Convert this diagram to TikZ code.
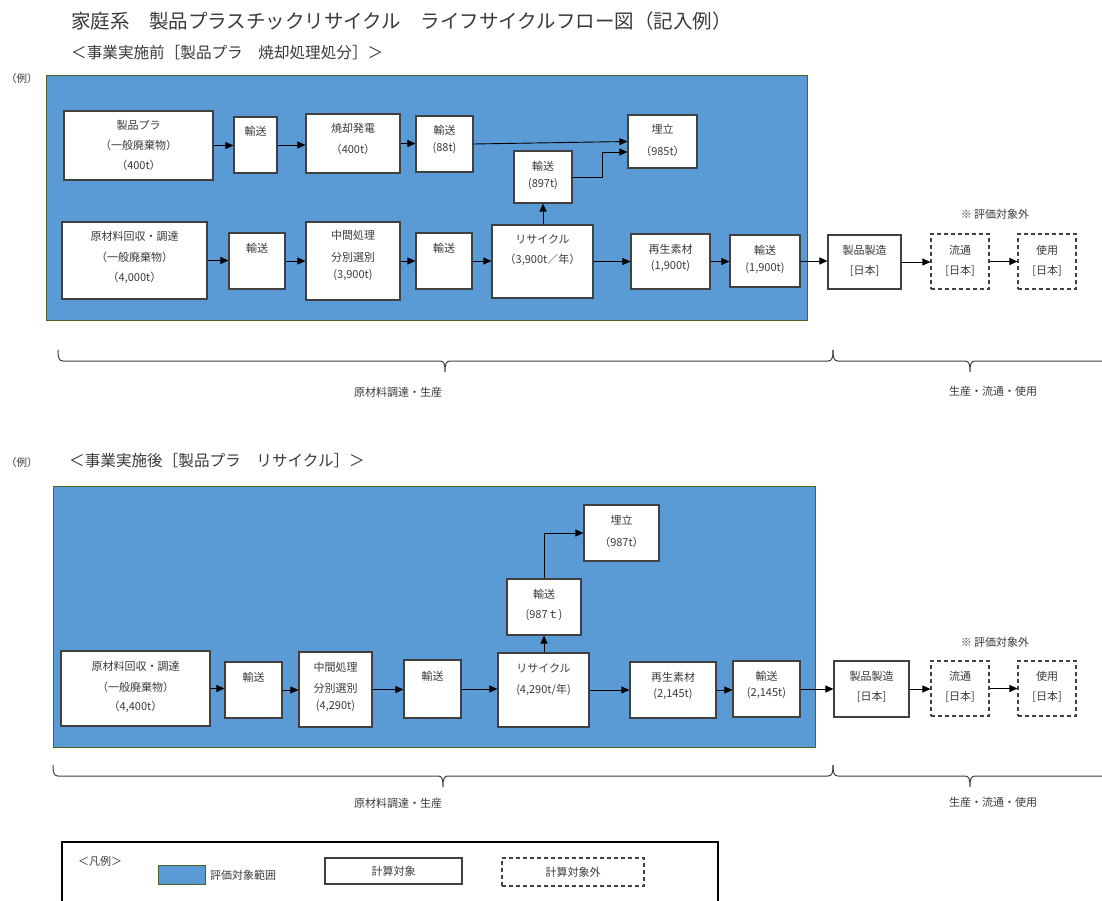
\documentclass[tikz,border=0pt]{standalone}
\usepackage{fontspec}
\setmainfont{Noto Sans CJK JP}
\usetikzlibrary{arrows.meta,fit,calc}
\definecolor{evblue}{HTML}{5B9BD5}
\definecolor{evedge}{HTML}{4F6228}
\definecolor{txtc}{HTML}{3A3A3A}
\definecolor{boxedge}{HTML}{404040}
\newcommand\bx[6][box]{\node[#1,fit={(#3,#4)(#5,#6)}] (#2) {};}
\newcommand\tl[3]{\node[tx] at (#1,#2) {#3};}
\newcommand\hbr[4]{%
  \draw[brc] (#1,#4) .. controls (#1,#4+8) and (#1+1,#4+11) .. (#1+5,#4+11)
    -- (#3-5,#4+11) .. controls (#3-1,#4+11) and (#3,#4+14) .. (#3,#4+22)
    .. controls (#3,#4+14) and (#3+1,#4+11) .. (#3+5,#4+11)
    -- (#2-5,#4+11) .. controls (#2-1,#4+11) and (#2,#4+8) .. (#2,#4);}
\begin{document}
\begin{tikzpicture}[x=1pt,y=-1pt,
  box/.style={draw=boxedge, line width=1.1pt, fill=white, inner sep=0pt},
  dbox/.style={draw=boxedge, line width=1.1pt, fill=white, dash pattern=on 4pt off 3pt, inner sep=0pt},
  area/.style={draw=evedge, line width=1pt, fill=evblue},
  tx/.style={text=txtc, font=\fontsize{11}{13}\selectfont, inner sep=0pt},
  sm/.style={text=txtc, font=\fontsize{11}{13}\selectfont, inner sep=0pt},
  arr/.style={draw=black, line width=0.9pt, -{Triangle[length=8pt,width=7pt]}},
  brc/.style={draw=boxedge, line width=1pt}]
\useasboundingbox (0,0) rectangle (1102,901);
\fill[white] (0,0) rectangle (1102,901);
\clip (0,0) rectangle (1102,901);

% headings
\node[anchor=west, text=txtc, font=\fontsize{19.5}{23}\selectfont, inner sep=0pt] (title) at (71,21) {家庭系　製品プラスチックリサイクル　ライフサイクルフロー図（記入例）};
\node[anchor=west, text=txtc, font=\fontsize{15.6}{18}\selectfont, inner sep=0pt] (sub1) at (71,53) {＜事業実施前［製品プラ　焼却処理処分］＞};
\node[anchor=west, text=txtc, font=\fontsize{10.5}{12}\selectfont, inner sep=0pt] (ex1) at (6,79) {（例）};

% ===== top diagram =====
\node[area, fit={(46,76)(807,320)}, inner sep=0pt] (area1) {};
\bx{pp}{64}{111}{213}{180}
\bx{ta}{234}{117}{277}{173}
\bx{ib}{306}{114}{400}{173}
\bx{tb}{416}{116}{473}{172}
\bx{um}{628}{115}{697}{168}
\bx{tc}{514}{151}{572}{203}
\bx{gz}{62}{222}{207}{299}
\bx{td}{229}{233}{285}{289}
\bx{cs}{306}{222}{400}{300}
\bx{te}{416}{233}{472}{289}
\bx{rc}{492}{225}{593}{298}
\bx{ss}{631}{234}{710}{289}
\bx{tf}{730}{235}{800}{287}
\bx{sz}{828}{235}{901}{289}
\bx[dbox]{rt}{931}{234}{989}{289}
\bx[dbox]{sy}{1018}{234}{1076}{289}

\tl{138.5}{125}{製品プラ}
\tl{138.5}{145}{（一般廃棄物）}
\tl{138.5}{165}{（400t）}
\tl{255.5}{131}{輸送}
\tl{353}{128}{焼却発電}
\tl{353}{149}{（400t）}
\tl{444.5}{130}{輸送}
\tl{444.5}{148}{(88t)}
\tl{662.5}{129}{埋立}
\tl{662.5}{151}{（985t）}
\tl{543}{166}{輸送}
\tl{543}{184}{(897t)}
\tl{134.5}{236}{原材料回収・調達}
\tl{134.5}{257}{（一般廃棄物）}
\tl{134.5}{278}{（4,000t）}
\tl{257}{248}{輸送}
\tl{353}{235}{中間処理}
\tl{353}{257}{分別選別}
\tl{353}{275}{(3,900t)}
\tl{444}{248}{輸送}
\tl{542.5}{239}{リサイクル}
\tl{542.5}{260}{（3,900t／年）}
\tl{670.5}{249}{再生素材}
\tl{670.5}{266}{(1,900t)}
\tl{765}{250}{輸送}
\tl{765}{268}{(1,900t)}
\tl{864.5}{250}{製品製造}
\tl{864.5}{271}{[日本]}
\tl{960}{250}{流通}
\tl{960}{271}{[日本]}
\tl{1047}{250}{使用}
\tl{1047}{271}{[日本]}
\node[tx] (note1) at (995,214) {※ 評価対象外};

\draw[arr] (pp.east) -- (pp.east -| ta.west);
\draw[arr] (ta.east) -- (ta.east -| ib.west);
\draw[arr] (ib.east) -- (ib.east -| tb.west);
\draw[arr] (tb.east) -- (um.west);
\coordinate (k1) at (602,152);
\draw[arr] (tc.east) -| (k1) -- (k1 -| um.west);
\draw[arr] (tc.south |- rc.north) -- (tc.south);
\draw[arr] (gz.east) -- (gz.east -| td.west);
\draw[arr] (td.east) -- (td.east -| cs.west);
\draw[arr] (cs.east) -- (cs.east -| te.west);
\draw[arr] (te.east) -- (te.east -| rc.west);
\draw[arr] (rc.east) -- (rc.east -| ss.west);
\draw[arr] (ss.east) -- (ss.east -| tf.west);
\draw[arr] (tf.east) -- (tf.east -| sz.west);
\draw[arr] (sz.east) -- (sz.east -| rt.west);
\draw[arr] (rt.east) -- (rt.east -| sy.west);

\hbr{58}{833}{445}{350}
\hbr{833}{1116}{970}{350}
\node[sm] (lab1) at (398,392) {原材料調達・生産};
\node[sm] (lab2) at (993,391) {生産・流通・使用};

% ===== bottom diagram =====
\node[anchor=west, text=txtc, font=\fontsize{15.6}{18}\selectfont, inner sep=0pt] (sub2) at (69,461) {＜事業実施後［製品プラ　リサイクル］＞};
\node[anchor=west, text=txtc, font=\fontsize{10.5}{12}\selectfont, inner sep=0pt] (ex2) at (6,463) {（例）};
\node[area, fit={(53,486)(815,747)}, inner sep=0pt] (area2) {};
\bx{gzb}{61}{651}{210}{726}
\bx{tg}{225}{662}{282}{718}
\bx{csb}{299}{652}{372}{727}
\bx{th}{404}{660}{461}{718}
\bx{rcb}{498}{653}{589}{727}
\bx{ssb}{630}{662}{716}{718}
\bx{ti}{733}{661}{800}{717}
\bx{szb}{834}{661}{909}{717}
\bx[dbox]{rtb}{931}{661}{989}{716}
\bx[dbox]{syb}{1018}{661}{1076}{716}
\bx{tj}{507}{579}{581}{635}
\bx{umb}{584}{505}{659}{561}

\tl{135.5}{666}{原材料回収・調達}
\tl{135.5}{687}{（一般廃棄物）}
\tl{135.5}{707}{（4,400t）}
\tl{253.5}{677}{輸送}
\tl{335.5}{667}{中間処理}
\tl{335.5}{688}{分別選別}
\tl{335.5}{706}{(4,290t)}
\tl{432.5}{676}{輸送}
\tl{543.5}{668}{リサイクル}
\tl{543.5}{690}{(4,290t/年)}
\tl{673}{677}{再生素材}
\tl{673}{694}{(2,145t)}
\tl{766.5}{676}{輸送}
\tl{766.5}{693}{(2,145t)}
\tl{871.5}{676}{製品製造}
\tl{871.5}{697}{[日本]}
\tl{960}{676}{流通}
\tl{960}{697}{[日本]}
\tl{1047}{676}{使用}
\tl{1047}{697}{[日本]}
\tl{544}{594}{輸送}
\tl{544}{615}{(987ｔ)}
\tl{621.5}{520}{埋立}
\tl{621.5}{542}{（987t）}
\node[tx] (note2) at (995,642) {※ 評価対象外};

\draw[arr] (gzb.east) -- (gzb.east -| tg.west);
\draw[arr] (tg.east) -- (tg.east -| csb.west);
\draw[arr] (csb.east) -- (csb.east -| th.west);
\draw[arr] (th.east) -- (th.east -| rcb.west);
\draw[arr] (rcb.east) -- (rcb.east -| ssb.west);
\draw[arr] (ssb.east) -- (ssb.east -| ti.west);
\draw[arr] (ti.east) -- (ti.east -| szb.west);
\draw[arr] (szb.east) -- (szb.east -| rtb.west);
\draw[arr] (rtb.east) -- (rtb.east -| syb.west);
\draw[arr] (tj.south |- rcb.north) -- (tj.south);
\draw[arr] (tj.north) |- (umb.west);

\hbr{53}{833}{443}{765}
\hbr{833}{1116}{970}{765}
\node[sm] (lab3) at (398,803) {原材料調達・生産};
\node[sm] (lab4) at (993,802) {生産・流通・使用};

% ===== legend =====
\node[draw=black, line width=2pt, fit={(62,842)(718,930)}, inner sep=0pt] (leg) {};
\node[tx] (legt) at (100,861) {＜凡例＞};
\node[area, fit={(158,865)(205,884)}, inner sep=0pt] (sw) {};
\node[tx, anchor=west] (swt) at (210,875) {評価対象範囲};
\node[box, fit={(325,858)(462,884)}] (lgs) {};
\node[tx] at (lgs.center) {計算対象};
\node[dbox, fit={(502,858)(644,886)}] (lgd) {};
\node[tx] at (lgd.center) {計算対象外};
\end{tikzpicture}
\end{document}
